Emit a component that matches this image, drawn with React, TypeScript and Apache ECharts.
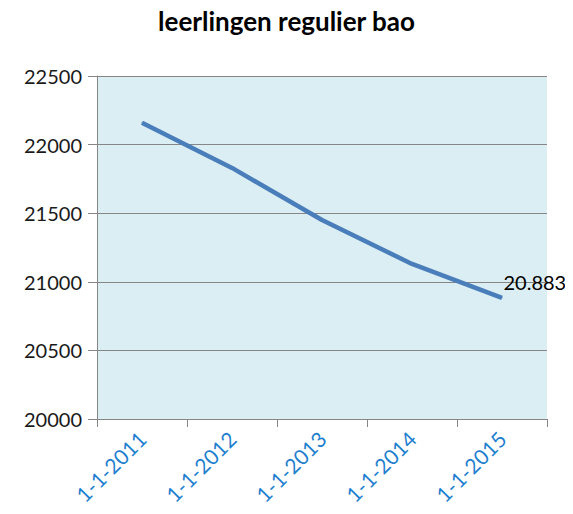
import React, { useEffect, useRef } from "react";
import * as echarts from "echarts";

const categories = ["1-1-2011", "1-1-2012", "1-1-2013", "1-1-2014", "1-1-2015"];
const leerlingen = [22160, 21830, 21450, 21130, 20883];
const lastLabel = "20.883";

export default function App() {
  const ref = useRef<HTMLDivElement>(null);
  useEffect(() => {
    if (!ref.current) return;
    const chart = echarts.init(ref.current, undefined, { renderer: "svg" });
    const last = leerlingen.length - 1;
    chart.setOption({
      animation: false,
      backgroundColor: "#ffffff",
      title: {
        text: "leerlingen regulier bao",
        left: "center",
        top: 3,
        textStyle: { fontFamily: "Lato", fontWeight: "bold", fontSize: 26, color: "#000" },
      },
      grid: {
        left: 97,
        right: 26,
        top: 76,
        bottom: 95,
        show: true,
        backgroundColor: "#DBEEF3",
        borderWidth: 0,
      },
      xAxis: {
        type: "category",
        data: categories,
        boundaryGap: true,
        axisLine: { show: true, lineStyle: { color: "#868686", width: 1 } },
        axisTick: { show: true, length: 8, lineStyle: { color: "#868686" } },
        axisLabel: {
          rotate: 45,
          color: "#1F80CF",
          fontFamily: "Lato",
          fontSize: 21,
          margin: 16,
        },
        splitLine: { show: false },
      },
      yAxis: {
        type: "value",
        min: 20000,
        max: 22500,
        interval: 500,
        axisLine: { show: true, lineStyle: { color: "#868686", width: 1 } },
        axisTick: { show: true, length: 9, lineStyle: { color: "#868686" } },
        axisLabel: {
          color: "#1a1a1a",
          fontFamily: "Lato",
          fontSize: 20,
          margin: 15,
          formatter: (v: number) => String(v),
        },
        splitLine: { show: true, lineStyle: { color: "#868686", width: 1 } },
      },
      series: [
        {
          type: "line",
          data: leerlingen.map((v, i) =>
            i === last
              ? {
                  value: v,
                  label: {
                    show: true,
                    position: "right",
                    offset: [-4, -16],
                    formatter: lastLabel,
                    color: "#000",
                    fontFamily: "Lato",
                    fontSize: 20,
                  },
                }
              : v
          ),
          showSymbol: true,
          symbol: "circle",
          symbolSize: 1,
          lineStyle: { color: "#4A7EBB", width: 4.5 },
          itemStyle: { color: "#4A7EBB" },
        },
      ],
    });
    return () => chart.dispose();
  }, []);
  return <div ref={ref} style={{ width: 573, height: 514, marginLeft: -8, marginTop: -8 }} />;
}
